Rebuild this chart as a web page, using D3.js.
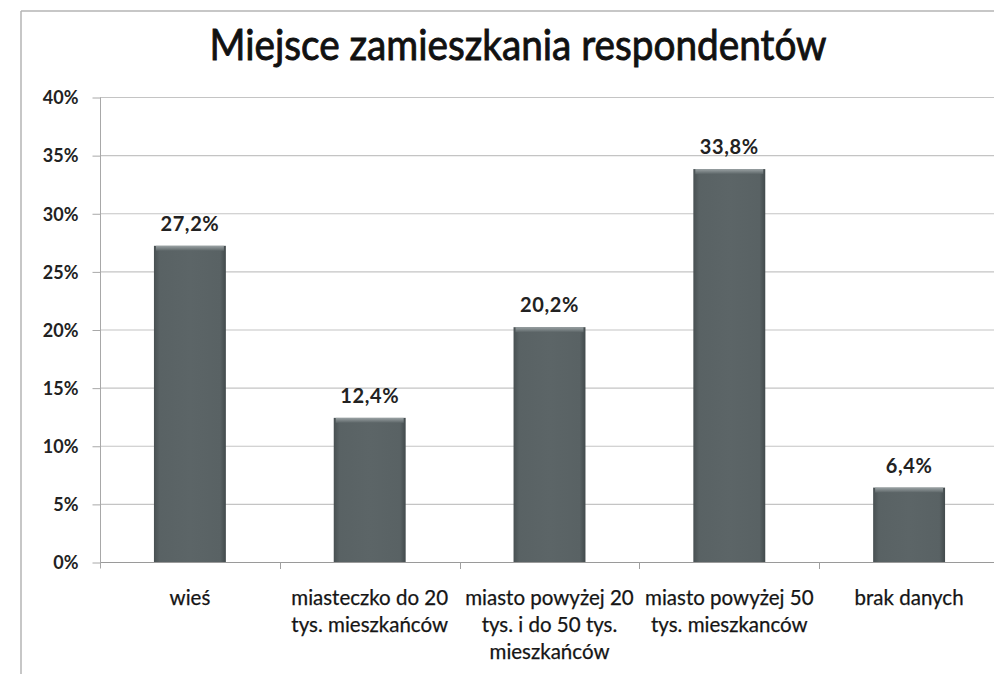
<!DOCTYPE html>
<html><head><meta charset="utf-8">
<script src="https://cdn.jsdelivr.net/npm/d3@7"></script>
<style>body{margin:0;background:#fff}svg{display:block}</style>
</head><body>
<script>
const title = "Miejsce zamieszkania respondentów";
const categories = [
  ["wieś"],
  ["miasteczko do 20", "tys. mieszkańców"],
  ["miasto powyżej 20", "tys. i do 50 tys.", "mieszkańców"],
  ["miasto powyżej 50", "tys. mieszkanców"],
  ["brak danych"]
];
const values = [27.2, 12.4, 20.2, 33.8, 6.4];
const valueLabels = ["27,2%", "12,4%", "20,2%", "33,8%", "6,4%"];
const yTicks = [0, 5, 10, 15, 20, 25, 30, 35, 40];

const W = 994, H = 674;
const svg = d3.select("body").append("svg").attr("width", W).attr("height", H);
const defs = svg.append("defs");
const g1 = defs.append("linearGradient").attr("id","barH").attr("x1","0").attr("x2","1").attr("y1","0").attr("y2","0");
g1.append("stop").attr("offset","0").attr("stop-color","#485052");
g1.append("stop").attr("offset","0.08").attr("stop-color","#596264");
g1.append("stop").attr("offset","0.5").attr("stop-color","#5c6567");
g1.append("stop").attr("offset","0.92").attr("stop-color","#596264");
g1.append("stop").attr("offset","1").attr("stop-color","#424a4c");
const g2 = defs.append("linearGradient").attr("id","barTop").attr("x1","0").attr("x2","0").attr("y1","0").attr("y2","1");
g2.append("stop").attr("offset","0").attr("stop-color","#9aa2a4");
g2.append("stop").attr("offset","1").attr("stop-color","#5c6567");

// frame
svg.append("line").attr("x1",21).attr("x2",W).attr("y1",11).attr("y2",11).attr("stroke","#b4b4b4").attr("stroke-width",1.5);
svg.append("line").attr("x1",21).attr("x2",21).attr("y1",11).attr("y2",H).attr("stroke","#b4b4b4").attr("stroke-width",1.5);

const x = d3.scaleBand().domain(d3.range(values.length)).range([100, 999]).paddingInner(0.6).paddingOuter(0.3);
const y = d3.scaleLinear().domain([0, 40]).range([562, 97]);
const font = "Lato, 'Open Sans', sans-serif";

// gridlines
svg.append("g").selectAll("line").data(yTicks).join("line")
  .attr("x1", 100).attr("x2", W).attr("y1", d => y(d)+0.5).attr("y2", d => y(d)+0.5)
  .attr("stroke", d => d === 0 ? "#9a9a9a" : "#c4c4c4").attr("stroke-width", 1.2);

// y axis
const yAxis = svg.append("g").attr("transform","translate(100.5,0.5)")
  .call(d3.axisLeft(y).tickValues(yTicks).tickSize(8).tickFormat(d => d + "%"));
yAxis.select(".domain").attr("stroke","#a8a8a8").attr("d","M0,"+(y(40))+"V"+(y(0)+6));
yAxis.selectAll(".tick line").attr("stroke","#a8a8a8");
yAxis.selectAll(".tick text").attr("x",-22).attr("font-family",font).attr("font-weight","bold")
  .attr("font-size",18).attr("fill","#222").attr("dy","0.35em");

// x ticks at band boundaries
const bounds = d3.range(values.length).map(i => x(i) - x.step()*x.paddingInner()/2);
svg.append("g").selectAll("line").data(bounds.slice(1)).join("line")
  .attr("x1", d => Math.round(d)+0.5).attr("x2", d => Math.round(d)+0.5)
  .attr("y1", y(0)).attr("y2", y(0)+7).attr("stroke","#a0a0a0");

// bars
const bars = svg.append("g").selectAll("g").data(values).join("g");
bars.append("rect").attr("x",(d,i)=>x(i)).attr("width",x.bandwidth())
  .attr("y",d=>y(d)).attr("height",d=>y(0)-y(d)).attr("fill","url(#barH)");
bars.append("rect").attr("x",(d,i)=>x(i)+2).attr("width",x.bandwidth()-4)
  .attr("y",d=>y(d)).attr("height",5).attr("fill","url(#barTop)");

// value labels
svg.append("g").selectAll("text").data(values).join("text")
  .attr("x",(d,i)=>x(i)+x.bandwidth()/2).attr("y",d=>y(d)-15)
  .attr("text-anchor","middle").attr("font-family",font).attr("font-weight","bold")
  .attr("font-size",20).attr("letter-spacing",0.6).attr("fill","#222").text((d,i)=>valueLabels[i]);

// category labels
const cl = svg.append("g").selectAll("text").data(categories).join("text")
  .attr("text-anchor","middle").attr("font-family",font).attr("font-size",20.5).attr("fill","#151515")
  .attr("stroke","#151515").attr("stroke-width",0.25);
cl.selectAll("tspan").data((d,i)=>d.map(t=>({t,i}))).join("tspan")
  .attr("x",d=>x(d.i)+x.bandwidth()/2).attr("y",(d,j)=>605+j*27).text(d=>d.t);

// title
svg.append("text").attr("x",518).attr("y",60).attr("text-anchor","middle")
  .attr("font-family",font).attr("font-size",43).attr("fill","#111")
  .attr("stroke","#111").attr("stroke-width",0.9)
  .attr("textLength",617).attr("lengthAdjust","spacingAndGlyphs").text(title);
</script>
</body></html>
